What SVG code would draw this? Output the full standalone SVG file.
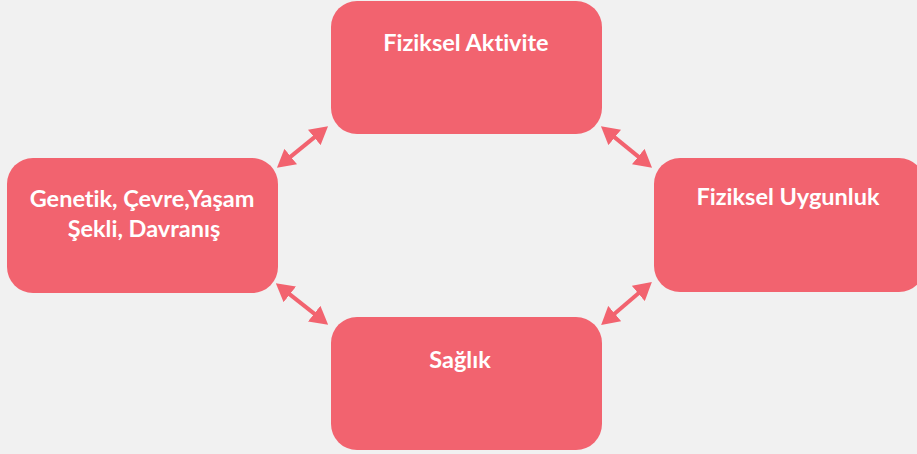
<svg xmlns="http://www.w3.org/2000/svg" width="917" height="454" viewBox="0 0 917 454">
<style>
.node{fill:#f2636f;}
.lbl{fill:#ffffff;font-family:Lato,"Open Sans","Liberation Sans",sans-serif;font-weight:bold;font-size:23.5px;text-anchor:middle;font-variant-ligatures:none;}
.conn{stroke:#f2636f;stroke-width:4;fill:none;marker-start:url(#ah);marker-end:url(#ah);}
</style>
<defs>
<marker id="ah" markerUnits="userSpaceOnUse" markerWidth="18" markerHeight="20" refX="4" refY="9" orient="auto-start-reverse" viewBox="0 0 16 18">
<path d="M0,0 L16,9 L0,18 z" fill="#f2636f"/>
</marker>
</defs>
<rect width="917" height="454" fill="#f1f1f1"/>
<g id="connectors">
<line class="conn" x1="287.3" y1="159.4" x2="317.7" y2="134.6"/>
<line class="conn" x1="611.3" y1="134.6" x2="641.7" y2="159.4"/>
<line class="conn" x1="286.3" y1="291.6" x2="317.7" y2="316.4"/>
<line class="conn" x1="641.7" y1="290.6" x2="611.3" y2="316.4"/>
</g>
<g id="node-aktivite">
<rect class="node" x="331" y="1" width="271" height="133" rx="26"/>
<text class="lbl" x="466" y="51">Fiziksel Aktivite</text>
</g>
<g id="node-genetik">
<rect class="node" x="7" y="158" width="271" height="135" rx="26"/>
<text class="lbl" x="142" y="207">Genetik, Çevre,Yaşam</text>
<text class="lbl" x="144" y="237">Şekli, Davranış</text>
</g>
<g id="node-uygunluk">
<rect class="node" x="654" y="158" width="271" height="134" rx="26"/>
<text class="lbl" x="788" y="205">Fiziksel Uygunluk</text>
</g>
<g id="node-saglik">
<rect class="node" x="331" y="317" width="271" height="133" rx="26"/>
<text class="lbl" x="460" y="368">Sağlık</text>
</g>
</svg>
